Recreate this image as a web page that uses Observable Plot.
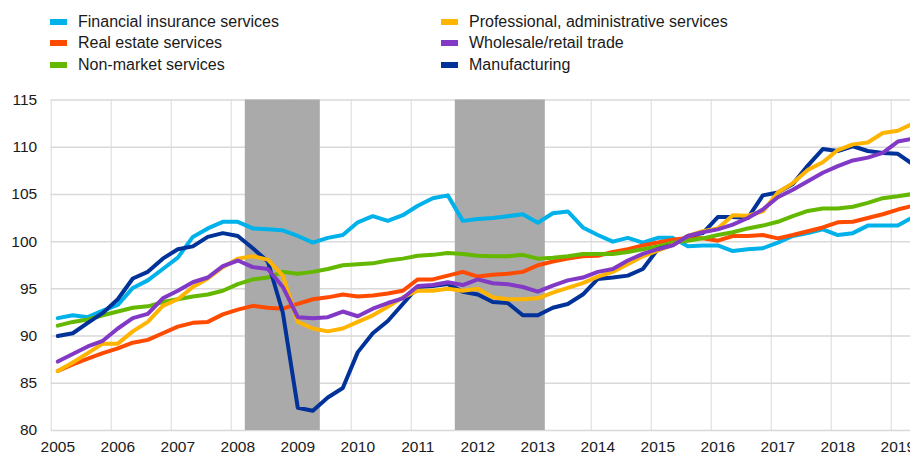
<!DOCTYPE html>
<html><head><meta charset="utf-8">
<script src="https://cdn.jsdelivr.net/npm/d3@7"></script>
<script src="https://cdn.jsdelivr.net/npm/@observablehq/plot@0.6"></script>
<style>
body{margin:0;background:#fff;font-family:"Liberation Sans",Arial,sans-serif;}
#wrap{width:910px;height:455px;overflow:hidden;position:relative;background:#fff;}
#legend{position:relative;height:88px;}
.item{position:absolute;font-size:16px;color:#1a1a1a;line-height:20px;white-space:nowrap;}
.sw{position:absolute;width:17px;height:6px;}
#chart svg{overflow:hidden;}
</style></head><body><div id="wrap"><div id="legend"></div><div id="chart"></div></div>
<script>
// Categories
const firstYear = 2005, lastYear = 2019;
const quarters = [];
for (let y = firstYear; y <= lastYear; y++) for (let q = 1; q <= 4; q++) quarters.push(y + "Q" + q);
quarters.length = 58; // 2005Q1 .. 2019Q2
const years = d3.range(2005, 2020);
const yTicks = [80, 85, 90, 95, 100, 105, 110, 115];

const seriesNames = ["Financial insurance services", "Real estate services", "Non-market services",
  "Professional, administrative services", "Wholesale/retail trade", "Manufacturing"];
const seriesColors = ["#00b1ea", "#ff4b00", "#65b800", "#ffb400", "#8139c6", "#003299"];

const financial = [91.9,92.2,92.0,92.7,93.3,95.1,95.9,97.1,98.3,100.5,101.4,102.1,102.1,101.4,
  101.3,101.2,100.6,99.9,100.4,100.7,102.05,102.7,102.2,102.8,103.8,104.6,104.9,102.2,
  102.4,102.5,102.7,102.9,102.0,103.0,103.2,101.5,100.7,100.0,100.4,99.9,100.4,100.4,99.5,
  99.6,99.6,99.0,99.2,99.3,99.9,100.6,100.9,101.3,100.7,100.9,101.7,101.7,101.7,102.6];
const realEstate = [86.3,87.0,87.6,88.2,88.7,89.3,89.6,90.3,91.0,91.4,91.5,92.3,92.8,93.2,
  93.0,92.9,93.4,93.9,94.1,94.4,94.2,94.3,94.5,94.8,96.0,96.0,96.4,96.8,
  96.3,96.5,96.6,96.8,97.5,97.9,98.2,98.45,98.5,98.9,99.2,99.6,99.9,100.2,100.4,
  100.35,100.1,100.6,100.6,100.7,100.35,100.7,101.1,101.5,102.05,102.1,102.5,102.9,103.4,103.8];
const nonMarket = [91.1,91.5,91.75,92.2,92.6,93.0,93.15,93.6,93.9,94.2,94.4,94.8,95.5,96.0,
  96.2,96.8,96.6,96.8,97.1,97.5,97.6,97.7,98.0,98.2,98.5,98.6,98.8,98.7,
  98.5,98.45,98.45,98.6,98.2,98.3,98.45,98.7,98.7,98.7,98.9,99.2,99.5,99.9,100.1,
  100.35,100.7,101.0,101.4,101.7,102.1,102.7,103.25,103.5,103.5,103.7,104.1,104.6,104.8,105.05];
const professional = [86.3,87.2,88.2,89.2,89.2,90.5,91.5,93.2,93.9,95.2,96.1,97.3,98.2,98.45,
  98.1,96.4,91.5,90.8,90.5,90.8,91.5,92.2,93.1,94.1,94.8,94.8,95.0,94.8,
  95.0,94.1,93.9,93.9,94.0,94.6,95.1,95.6,96.3,96.8,97.6,98.45,99.05,99.65,100.6,
  101.1,101.4,102.8,102.75,103.2,105.2,106.2,107.6,108.4,109.7,110.3,110.5,111.5,111.75,112.5];
const wholesale = [87.3,88.1,88.9,89.5,90.8,91.9,92.35,94.0,94.8,95.7,96.2,97.4,98.0,97.3,
  97.1,95.2,92.0,91.9,92.0,92.6,92.1,92.9,93.5,94.0,95.3,95.4,95.7,95.4,
  96.0,95.6,95.5,95.2,94.7,95.35,95.9,96.2,96.8,97.1,98.0,98.7,99.2,99.6,100.6,
  101.0,101.3,101.8,102.5,103.4,104.7,105.5,106.4,107.3,108.0,108.6,108.9,109.4,110.6,110.9];
const manufacturing = [90.0,90.3,91.4,92.45,93.9,96.1,96.8,98.2,99.2,99.5,100.5,100.9,100.6,99.3,
  97.9,92.5,82.4,82.1,83.5,84.5,88.3,90.3,91.6,93.4,95.2,95.3,95.5,94.7,
  94.4,93.6,93.5,92.2,92.2,93.0,93.4,94.4,96.05,96.2,96.4,97.1,99.2,99.65,100.6,
  100.9,102.6,102.6,102.5,104.9,105.2,106.1,108.05,109.8,109.6,110.1,109.6,109.4,109.3,108.2];

const recessionStart = ["2008Q2", "2011Q4"];
const recessionEnd = ["2009Q2", "2013Q1"];

// helpers
const qt = s => +s.slice(0, 4) + (+s.slice(5) - 1) / 4;
const allValues = [financial, realEstate, nonMarket, professional, wholesale, manufacturing];
const data = [];
allValues.forEach((vals, si) => vals.forEach((v, k) => data.push({series: seriesNames[si], t: qt(quarters[k]), value: v})));
const recessions = recessionStart.map((s, i) => ({x1: qt(s) - 0.125, x2: qt(recessionEnd[i]) + 0.125}));

// draw order (bottom -> top)
const drawOrder = [0, 1, 2, 5, 3, 4];
const ordered = drawOrder.flatMap(si => data.filter(d => d.series === seriesNames[si]));

// legend
const legend = document.getElementById("legend");
const legendPos = [[50, 22], [50, 43], [50, 65], [441, 22], [441, 43], [441, 65]];
seriesNames.forEach((name, i) => {
  const [lx, ly] = legendPos[i];
  const sw = document.createElement("div");
  sw.className = "sw"; sw.style.left = lx + "px"; sw.style.top = (ly - 3) + "px"; sw.style.background = seriesColors[i];
  legend.appendChild(sw);
  const t = document.createElement("div");
  t.className = "item"; t.style.left = (lx + 28) + "px"; t.style.top = (ly - 10) + "px"; t.textContent = name;
  legend.appendChild(t);
});

const mL = 50.7, W = 910;
const chart = Plot.plot({
  width: W, height: 367,
  marginTop: 11.5, marginBottom: 25, marginLeft: mL, marginRight: 0,
  style: {fontFamily: "'Liberation Sans', Arial, sans-serif", fontSize: "15.5px", color: "#1a1a1a", background: "#fff"},
  x: {domain: [2004.89, 2004.89 + (W - mL) / 60], label: null},
  y: {domain: [80, 115], label: null},
  color: {domain: seriesNames, range: seriesColors},
  marks: [
    Plot.ruleY(yTicks, {stroke: "#d9d9d9", strokeWidth: 1.5}),
    Plot.ruleX(years, {x: d => d - 0.11, stroke: "#d9d9d9", strokeWidth: 1}),
    Plot.rect(recessions, {x1: "x1", x2: "x2", y1: 80, y2: 115, fill: "#aaaaaa"}),
    Plot.line(ordered, {x: "t", y: "value", z: "series", stroke: "series", strokeWidth: 4,
      strokeLinejoin: "round", strokeLinecap: "round", clip: true}),
    Plot.axisY(yTicks, {tickSize: 0, tickPadding: 14, fontSize: 15.5, fill: "#1a1a1a", label: null}),
    Plot.axisX(years, {tickSize: 0, tickPadding: 10.5, fontSize: 15.5, fill: "#1a1a1a", label: null, tickFormat: d => String(d)})
  ]
});
document.getElementById("chart").appendChild(chart);
</script>
</body></html>
